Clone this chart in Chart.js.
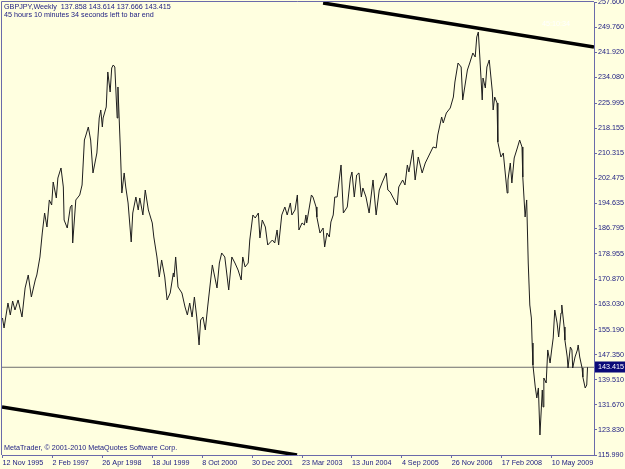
<!DOCTYPE html>
<html><head><meta charset="utf-8">
<script src="https://cdn.jsdelivr.net/npm/chart.js@4.4.1/dist/chart.umd.min.js"></script>
<style>html,body{margin:0;padding:0;background:#ffffe0;overflow:hidden}canvas{display:block}</style>
</head><body><canvas id="c" width="625" height="469"></canvas>
<script>
// week index counted from 12 Nov 1995 (weekly bars), close price
const weeks = [0,2,7,10,13,16,20,25,29,33,37,42,44,48,51,54,57,60,63,65,69,71,75,78,79,83,87,89,90,94,99,102,105,107,110,113,116,121,124,126,128,129,133,135,138,140,142,144,147,148,151,153,156,158,161,165,167,171,174,176,180,183,187,192,194,198,201,204,208,211,215,219,220,222,225,230,234,237,240,243,246,249,252,254,257,260,263,269,275,278,281,285,290,294,298,302,306,308,311,315,317,321,324,328,330,333,337,340,346,349,352,354,358,362,365,369,371,375,378,380,384,387,389,390,396,398,402,403,407,411,413,416,419,421,424,426,429,434,437,442,446,448,451,454,457,460,462,466,470,475,479,483,487,492,494,497,501,506,508,513,516,519,521,526,529,533,538,542,547,552,556,558,563,565,569,574,578,580,584,588,590,596,599,603,606,608,610,612,615,616,619,621,624,628,629,631,634,635,639,642,647,648,651,653,656,660,663,666,667,670,672,674,676,678,679,680,683,685,687,689,692,693,694,697,699,702,704,706,708,711,713,716,717,720,721,724,725,728,730,731,734,737,738,740,743,744,747,749,750];
const closes = [158.82,155.7,163.5,159.76,164.13,161.32,164.45,159.13,168.2,172.26,165.38,170.7,172.26,177.89,185.39,191.64,187.26,195.71,194.14,201.33,196.33,202.58,205.71,199.77,189.45,186.95,193.52,194.14,182.26,195.71,197.27,200.39,214.46,216.02,218.52,214.46,204.15,210.4,221.34,223.84,218.52,221.34,224.78,235.72,229.47,236.97,237.91,237.28,221.34,231.03,212.27,197.89,204.15,199.77,194.77,182.58,191.64,196.64,192.58,196.33,191.02,198.83,192.58,188.52,184.14,177.89,171.63,176.95,171.63,164.45,166.63,172.89,171.63,177.89,168.51,166.63,162.26,159.76,163.5,159.13,165.38,159.13,150.38,158.19,159.13,155.07,162.26,175.39,168.2,176.01,179.14,177.89,167.57,177.89,176.01,173.82,170.7,177.89,174.76,176.01,183.2,191.02,190.08,191.64,183.83,189.45,187.26,181.64,183.2,182.26,186.33,181.64,191.02,193.52,191.02,194.77,191.02,192.58,197.27,186.33,188.52,187.89,191.02,188.52,197.27,196.64,193.52,190.39,185.39,186.95,181.01,185.39,184.14,188.83,191.02,196.64,196.64,206.65,191.64,193.52,202.58,204.46,196.64,203.52,204.15,196.64,199.46,196.64,191.64,201.96,191.02,198.83,201.33,204.15,198.83,198.21,196.33,194.14,199.77,201.96,200.39,206.65,204.46,211.34,201.96,209.15,204.15,207.27,209.77,212.27,211.96,216.02,221.65,219.78,222.9,224.46,227.9,232.59,238.53,237.28,226.97,236.34,238.53,241.66,240.41,246.66,248.22,240.09,226.97,233.84,230.72,237.28,239.47,229.47,223.84,227.9,226.03,213.84,209.15,210.4,197.89,201.96,207.27,201.02,208.83,211.96,214.46,212.27,202.89,190.39,195.71,176.01,162.88,158.82,151.0,144.13,137.25,133.81,136.94,122.24,136.31,131.0,140.06,138.5,148.82,144.75,148.82,152.57,161.32,157.26,152.88,160.38,162.88,156.0,151.94,146.63,143.19,149.75,148.82,143.19,146.63,148.82,150.38,146.63,143.19,140.37,136.94,137.86,143.415];

// x-axis ticks (week index) and their date labels
const xTickWeeks = [0,64,128,192,256,320,384,448,512,576,640,704];
const xTickLabels = ['12 Nov 1995','2 Feb 1997','26 Apr 1998','18 Jul 1999','8 Oct 2000','30 Dec 2001','23 Mar 2003','13 Jun 2004','4 Sep 2005','26 Nov 2006','17 Feb 2008','10 May 2009'];

// y-axis price ticks
const yTickValues = [115.99,123.83,131.67,139.51,147.35,155.19,163.03,170.87,178.955,186.795,194.635,202.475,210.315,218.155,225.995,234.08,241.92,249.76,257.6];
const yTickLabels = ['115.990','123.830','131.670','139.510','147.350','155.190','163.030','170.870','178.955','186.795','194.635','202.475','210.315','218.155','225.995','234.080','241.920','249.760','257.600'];

// trend lines (week, price) endpoints
const upperTrendWeeks = [411, 758.3];
const upperTrendPrices = [257.3, 243.5];
const lowerTrendWeeks = [-0.64, 377.6];
const lowerTrendPrices = [131.0, 116.0];

const lastPrice = 143.415;
const xMin = -0.64, xMax = 758.3, yMin = 115.99, yMax = 257.6;

const headerLine1 = 'GBPJPY,Weekly  137.858 143.614 137.666 143.415';
const headerLine2 = '45 hours 10 minutes 34 seconds left to bar end';
const timerText = '45:10:34';
const footerText = 'MetaTrader, \u00A9 2001-2010 MetaQuotes Software Corp.';

const BG = '#ffffe0';
const TXT = '#1a1a80';
const AXIS = '#6a6aaa';
const FONT = 'Liberation Sans';

const bgPlugin = {
  id: 'bg',
  beforeDraw(chart) {
    const ctx = chart.ctx;
    ctx.save();
    ctx.fillStyle = BG;
    ctx.fillRect(0, 0, chart.width, chart.height);
    ctx.restore();
  },
  afterDraw(chart) {
    const ctx = chart.ctx, a = chart.chartArea;
    ctx.save();
    // frame top/left
    ctx.strokeStyle = AXIS;
    ctx.lineWidth = 1;
    ctx.beginPath();
    ctx.moveTo(a.left - 0.5, a.bottom);
    ctx.lineTo(a.left - 0.5, a.top - 0.5);
    ctx.lineTo(a.right, a.top - 0.5);
    ctx.stroke();
    // texts
    ctx.font = '7.2px "' + FONT + '"';
    ctx.fillStyle = TXT;
    ctx.textBaseline = 'middle';
    ctx.textAlign = 'left';
    ctx.fillText(headerLine1, 4, 7.5);
    ctx.fillText(headerLine2, 4, 15.5);
    ctx.fillText(footerText, 4, 448.5);
    ctx.fillStyle = '#ffffff';
    ctx.fillText(timerText, 542, 24);
    // price label box
    const y = chart.scales.y.getPixelForValue(lastPrice);
    ctx.fillStyle = '#0a0a78';
    ctx.fillRect(a.right + 1, Math.round(y) - 5.5, chart.width - a.right - 1, 11);
    ctx.fillStyle = '#ffffff';
    ctx.fillText(lastPrice.toFixed(3), a.right + 4, Math.round(y) + 0.5);
    ctx.restore();
  }
};

new Chart(document.getElementById('c'), {
  type: 'line',
  data: {
    datasets: [
      {
        data: weeks.map((w, i) => ({x: w, y: closes[i]})),
        borderColor: '#1e1e1e', borderWidth: 1, pointRadius: 0, tension: 0
      },
      {
        data: [{x: xMin, y: lastPrice}, {x: xMax, y: lastPrice}],
        borderColor: '#6e6e6e', borderWidth: 1, pointRadius: 0
      },
      {
        data: upperTrendWeeks.map((w, i) => ({x: w, y: upperTrendPrices[i]})),
        borderColor: '#000000', borderWidth: 3.5, pointRadius: 0
      },
      {
        data: lowerTrendWeeks.map((w, i) => ({x: w, y: lowerTrendPrices[i]})),
        borderColor: '#000000', borderWidth: 3.5, pointRadius: 0
      }
    ]
  },
  options: {
    responsive: false,
    animation: false,
    devicePixelRatio: 1,
    layout: {padding: {left: 2, top: 2, right: 0, bottom: 0}},
    plugins: {legend: {display: false}, tooltip: {enabled: false}},
    scales: {
      x: {
        type: 'linear', min: xMin, max: xMax, position: 'bottom',
        afterBuildTicks: s => { s.ticks = xTickWeeks.map(v => ({value: v})); },
        afterFit: s => { s.height = 14; s.paddingLeft = 0; s.paddingRight = 0; s.paddingTop = 0; s.paddingBottom = 0; },
        ticks: {
          callback: (v, i) => xTickLabels[i],
          align: 'start', maxRotation: 0, minRotation: 0, autoSkip: false,
          color: TXT, font: {family: FONT, size: 7.2}, padding: 1
        },
        grid: {drawOnChartArea: false, drawTicks: true, tickLength: 3, color: AXIS},
        border: {display: true, color: AXIS}
      },
      y: {
        type: 'linear', min: yMin, max: yMax, position: 'right',
        afterBuildTicks: s => { s.ticks = yTickValues.map(v => ({value: v})); },
        afterFit: s => { s.width = 31; s.paddingLeft = 0; s.paddingRight = 0; s.paddingTop = 0; s.paddingBottom = 0; },
        ticks: {
          callback: (v, i) => yTickLabels[i],
          autoSkip: false, color: TXT, font: {family: FONT, size: 7.2}, padding: 1
        },
        grid: {drawOnChartArea: false, drawTicks: true, tickLength: 3, color: AXIS},
        border: {display: true, color: AXIS}
      }
    }
  },
  plugins: [bgPlugin]
});
</script></body></html>
